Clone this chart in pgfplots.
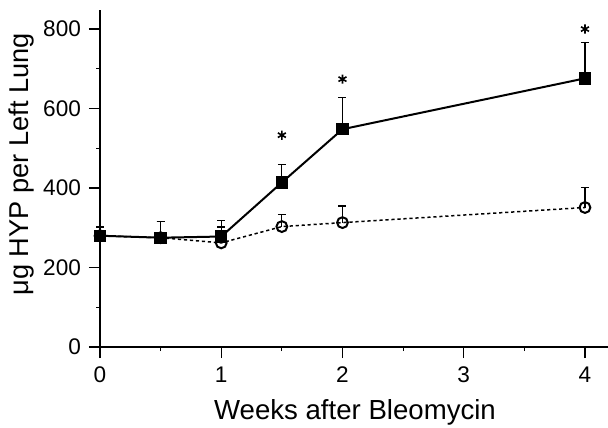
\documentclass[border=0pt]{standalone}
\usepackage{fontspec}
\setmainfont{Liberation Sans}
\usepackage{pgfplots}
\pgfplotsset{compat=1.18}

\begin{document}
\begin{tikzpicture}
\begin{axis}[
  scale only axis, width=254pt, height=168.5pt,
  xmin=0, xmax=4.19, ymin=0, ymax=848,
  axis x line*=bottom, axis y line*=left,
  axis line style={line width=0.7pt},
  clip=false,
  xtick={0,1,2,3,4}, minor xtick={0.5,1.5,2.5,3.5},
  ytick={0,200,400,600,800}, minor ytick={100,300,500,700},
  tick align=outside,
  major tick length=5.5pt, minor tick length=2pt,
  every tick/.style={black, line width=0.6pt},
  tick label style={font=\fontsize{11.3}{13}\selectfont},
  yticklabel style={xshift=-0.5pt},
  xticklabel style={yshift=-1pt},
  /pgf/number format/assume math mode=true,
  xlabel={Weeks after Bleomycin},
  ylabel={μg HYP per Left Lung},
  xlabel style={font=\fontsize{13.8}{16}\selectfont, at={(axis description cs:0.502,-0.2166)}, anchor=base},
  ylabel style={font=\fontsize{13.6}{16}\selectfont, at={(axis description cs:-0.1407,0.542)}, anchor=base},
  error bars/y dir=plus, error bars/y explicit,
  error bars/error mark options={black, line width=0.6pt, mark size=2pt, rotate=90},
  error bars/error bar style={black, solid, line width=0.6pt},
]
% open circles: error bars first, then line and marks
\addplot[draw=none, mark=none, forget plot] coordinates {
  (0,280) +- (0,22) (0.5,275) +- (0,40) (1,262) +- (0,40)
  (1.5,303) +- (0,31) (2,313) +- (0,42) (4,351) +- (0,50)};
\addplot[black, line width=0.75pt, dash pattern=on 1.6pt off 1.4pt,
  mark=o, mark size=2.7pt, mark options={solid, line width=1pt, fill=white}] coordinates {
  (0,280) (0.5,275) (1,262) (1.5,303) (2,313) (4,351)};
% filled squares
\addplot[draw=none, mark=none, forget plot] coordinates {
  (0,280) +- (0,22) (0.5,275) +- (0,40) (1,278) +- (0,40)
  (1.5,414) +- (0,46) (2,548) +- (0,79) (4,676) +- (0,90)};
\addplot[black, line width=1pt, mark=square*, mark size=2.6pt, mark options={solid}] coordinates {
  (0,280) (0.5,275) (1,278) (1.5,414) (2,548) (4,676)};
% significance marks
\addplot[black, only marks, mark=asterisk, mark size=2.3pt, line width=0.8pt] coordinates {
  (1.5,533) (2,674) (4,800)};
\end{axis}
\pgfresetboundingbox
\path (-50pt,-40pt) rectangle (254pt,173.5pt);
\end{tikzpicture}
\end{document}
